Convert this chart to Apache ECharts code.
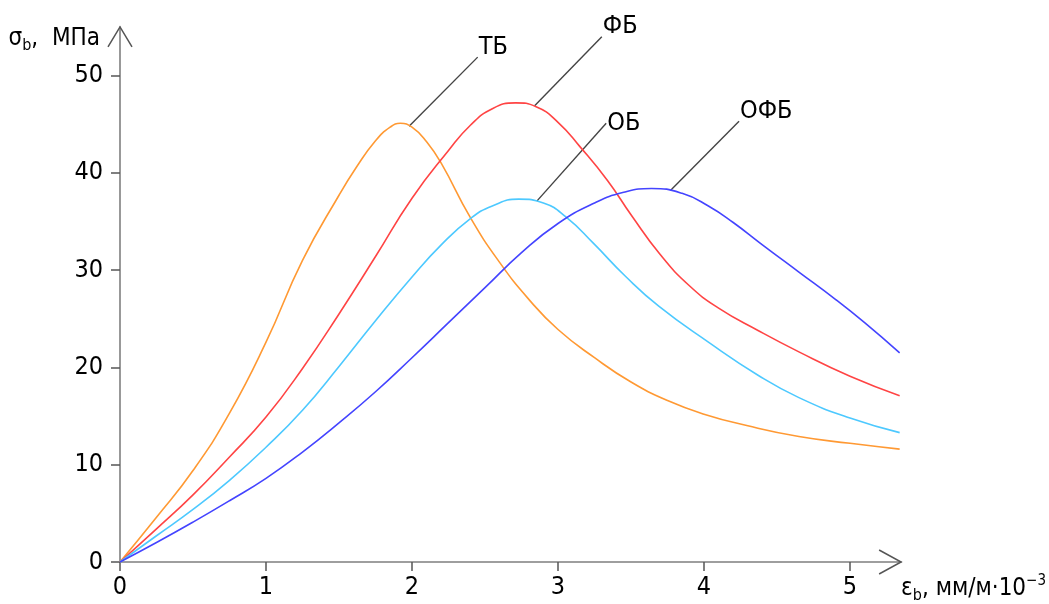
<!DOCTYPE html>
<html>
<head>
<meta charset="utf-8">
<script src="https://cdn.jsdelivr.net/npm/echarts@6/dist/echarts.min.js"></script>
<style>
html,body{margin:0;padding:0;background:#fff;}
#chart{width:1049px;height:604px;}
</style>
</head>
<body>
<div id="chart"></div>
<script>
// ---- data ----
const xTicks = [0, 1, 2, 3, 4, 5];
const yTicks = [0, 10, 20, 30, 40, 50];
const xMax = 5.35;
const yMax = 55;

const tbData = [[0,0],[0.25,4.6],[0.5,9.4],[0.75,15.3],[1.0,22.6],[1.25,31.0],[1.5,37.7],[1.62,40.6],[1.75,43.3],[1.85,44.7],[1.92,45.1],[2.0,44.7],[2.1,43.2],[2.2,41.0],[2.4,35.4],[2.6,30.8],[2.8,27.0],[3.0,23.9],[3.25,21.0],[3.5,18.5],[3.75,16.6],[4.0,15.2],[4.3,14.0],[4.65,12.9],[5.0,12.2],[5.34,11.6]];
const fbData = [[0,0],[0.25,3.4],[0.5,6.9],[0.75,10.8],[1.0,14.9],[1.25,19.9],[1.5,25.5],[1.75,31.4],[2.0,37.4],[2.25,42.3],[2.4,44.9],[2.55,46.6],[2.71,47.2],[2.85,46.8],[3.0,45.2],[3.15,42.7],[3.34,39.2],[3.5,35.7],[3.7,31.6],[3.9,28.4],[4.1,26.1],[4.37,23.8],[4.65,21.6],[5.0,19.1],[5.34,17.1]];
const obData = [[0,0],[0.25,2.7],[0.5,5.4],[0.75,8.4],[1.0,11.8],[1.25,15.6],[1.5,20.1],[1.75,24.8],[2.0,29.3],[2.2,32.6],[2.4,35.3],[2.55,36.6],[2.73,37.3],[2.9,36.9],[3.06,35.4],[3.24,32.8],[3.46,29.4],[3.69,26.3],[4.03,22.6],[4.37,19.2],[4.65,16.9],[5.0,14.8],[5.34,13.3]];
const ofbData = [[0,0],[0.25,2.0],[0.5,4.1],[0.75,6.3],[1.0,8.6],[1.25,11.3],[1.5,14.3],[1.75,17.5],[2.0,21.0],[2.25,24.6],[2.5,28.2],[2.75,31.8],[3.0,34.8],[3.25,36.9],[3.45,38.0],[3.64,38.4],[3.85,37.9],[4.03,36.6],[4.2,34.9],[4.4,32.6],[4.65,29.8],[4.9,27.0],[5.1,24.6],[5.34,21.5]];

const calloutNames = ['ТБ', 'ФБ', 'ОБ', 'ОФБ'];
const calloutFrom = [[1.98,44.8],[2.84,46.9],[2.855,37.1],[3.77,38.2]];
const calloutTo = [[2.45,51.9],[3.30,54.0],[3.33,45.1],[4.24,45.3]];

// ---- styles ----
const FONT = "'DejaVu Sans Condensed', 'Liberation Sans Narrow', sans-serif";
const colors = ['#ff9933', '#ff4444', '#4dc9ff', '#4444ff'];
const axisGrey = '#7f7f7f';

const chart = echarts.init(document.getElementById('chart'));

function curve(name, data, color) {
  return {
    name: name, type: 'line', data: data, smooth: 0.5,
    showSymbol: false, symbol: 'none', silent: true,
    lineStyle: { color: color, width: 1.6 }, z: 3
  };
}

const series = [
  curve('ТБ', tbData, colors[0]),
  curve('ФБ', fbData, colors[1]),
  curve('ОБ', obData, colors[2]),
  curve('ОФБ', ofbData, colors[3])
];

calloutNames.forEach(function (n, i) {
  series.push({
    type: 'line', data: [calloutFrom[i], calloutTo[i]], symbol: 'none', silent: true,
    lineStyle: { color: '#444', width: 1.4 }, z: 2
  });
});

series.push({
  type: 'scatter', symbolSize: 0, silent: true, z: 5,
  itemStyle: { color: '#000', opacity: 1 },
  data: calloutNames.map(function (n, i) {
    return {
      name: n, value: calloutTo[i],
      label: { offset: i === 2 ? [1, 0] : [1, -10] }
    };
  }),
  label: {
    show: true, position: [0, 0], align: 'left', verticalAlign: 'middle',
    formatter: '{b}', fontFamily: FONT, fontSize: 25, color: '#000',
    opacity: 1, textBorderWidth: 0, textShadowBlur: 0
  }
});

const richMain = { fontFamily: FONT, fontSize: 24, color: '#000', lineHeight: 30, verticalAlign: 'middle' };
const richSub = { fontFamily: FONT, fontSize: 16, color: '#000', lineHeight: 16, verticalAlign: 'bottom' };
const richSup = { fontFamily: FONT, fontSize: 15, color: '#000', lineHeight: 15, verticalAlign: 'top' };

chart.setOption({
  animation: false,
  backgroundColor: '#fff',
  grid: { left: 120, right: 1049 - 120 - xMax * 146.3, top: 563.5 - yMax * 9.755, bottom: 40.5, containLabel: false },
  xAxis: {
    type: 'value', min: 0, max: xMax, interval: 1,
    name: '{m|ε}{s|b}{m|, мм/м·10}{p|−3}',
    nameLocation: 'end', nameGap: 0,
    nameTextStyle: { align: 'left', verticalAlign: 'top', padding: [12, 0, 0, 0], rich: { m: richMain, s: richSub, p: richSup } },
    axisLine: { show: true, onZero: false, lineStyle: { color: axisGrey, width: 1.6 } },
    axisTick: { show: true, inside: false, length: 9, customValues: xTicks, lineStyle: { color: '#555', width: 1.5 } },
    axisLabel: { show: true, margin: 13, customValues: xTicks, fontFamily: FONT, fontSize: 25, color: '#000' },
    splitLine: { show: false }
  },
  yAxis: {
    type: 'value', min: 0, max: yMax, interval: 10,
    name: '{m|σ}{s|b}{m|,  МПа}',
    nameLocation: 'end', nameGap: -12,
    nameTextStyle: { align: 'right', verticalAlign: 'middle', padding: [0, 20, 0, 0], rich: { m: richMain, s: richSub } },
    axisLine: { show: true, onZero: false, lineStyle: { color: axisGrey, width: 1.6 } },
    axisTick: { show: true, inside: false, length: 9, customValues: yTicks, lineStyle: { color: '#555', width: 1.5 } },
    axisLabel: { show: true, margin: 17, customValues: yTicks, fontFamily: FONT, fontSize: 25, color: '#000' },
    splitLine: { show: false }
  },
  series: series
});

// open chevron arrows at the axis ends, placed through the chart's own scales
const yTip = chart.convertToPixel({ gridIndex: 0 }, [0, yMax]);
const xTip = chart.convertToPixel({ gridIndex: 0 }, [xMax, 0]);
chart.setOption({
  graphic: [
    { type: 'polyline', silent: true, z: 10,
      shape: { points: [[yTip[0] - 12, yTip[1] + 20], [yTip[0], yTip[1]], [yTip[0] + 12, yTip[1] + 20]] },
      style: { stroke: '#555', lineWidth: 1.5, fill: null } },
    { type: 'polyline', silent: true, z: 10,
      shape: { points: [[xTip[0] - 22, xTip[1] - 12], [xTip[0], xTip[1]], [xTip[0] - 22, xTip[1] + 12]] },
      style: { stroke: '#555', lineWidth: 1.5, fill: null } }
  ]
});
</script>
</body>
</html>
